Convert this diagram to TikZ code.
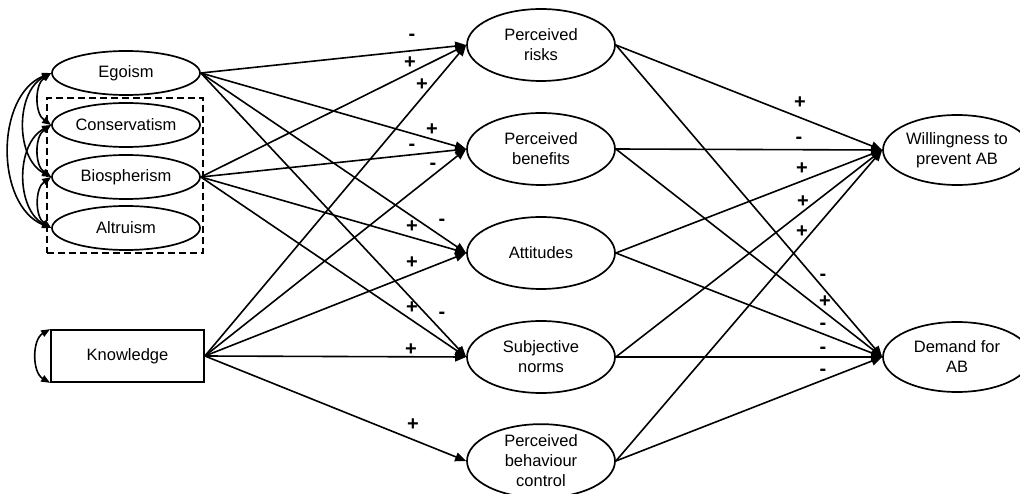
\documentclass[tikz,border=0pt]{standalone}
\usepackage{fontspec}
\setmainfont{Liberation Sans}
\usetikzlibrary{shapes.geometric,arrows.meta}
\begin{document}
\begin{tikzpicture}[x=1pt,y=-1pt,
  font=\fontsize{16.5}{20}\selectfont,
  every node/.style={inner sep=0pt},
  lat/.style={ellipse,draw,line width=1.7pt,minimum width=148pt,minimum height=44pt,align=center},
  mid/.style={ellipse,draw,line width=1.7pt,minimum width=148pt,minimum height=72pt,align=center},
  outc/.style={ellipse,draw,line width=1.7pt,minimum width=148pt,minimum height=70pt,align=center},
  box/.style={rectangle,draw,line width=1.7pt,minimum width=153pt,minimum height=52pt},
  grpbox/.style={rectangle,draw,line width=1.5pt,dash pattern=on 7pt off 4pt,minimum width=156pt,minimum height=155pt},
  arr/.style={line width=1.6pt,-{Triangle[length=11pt,width=9pt]}},
  cov/.style={line width=1.6pt,{Triangle[length=9pt,width=7pt]}-{Triangle[length=9pt,width=7pt]}},
  sign/.style={font=\fontsize{20}{24}\selectfont\bfseries}
]
\useasboundingbox (0,0) rectangle (1020,494);

% left side
\node[grpbox] (grp) at (125,175.5) {};
\node[lat] (ego) at (126,73) {Egoism};
\node[lat] (con) at (126,125) {Conservatism};
\node[lat] (bio) at (126,177) {Biospherism};
\node[lat] (alt) at (126,228) {Altruism};
\node[box] (kn) at (127.5,356) {Knowledge};

% middle
\node[mid] (risk) at (541,45) {Perceived\\risks};
\node[mid] (ben) at (541,149) {Perceived\\benefits};
\node[mid] (att) at (541,253) {Attitudes};
\node[mid] (norm) at (541,357) {Subjective\\norms};
\node[mid] (pbc) at (541,461) {Perceived\\behaviour\\control};

% right
\node[outc] (will) at (957,150) {Willingness to\\prevent AB};
\node[outc] (dem) at (957,357) {Demand for\\AB};

% covariances
\draw[cov] (ego.west) to[bend right=55] (con.west);
\draw[cov] (ego.west) to[bend right=62] (bio.west);
\draw[cov] (ego.west) to[bend right=68] (alt.west);
\draw[cov] (con.west) to[bend right=55] (bio.west);
\draw[cov] (con.west) to[bend right=62] (alt.west);
\draw[cov] (bio.west) to[bend right=55] (alt.west);
\draw[cov] (kn.north west) to[bend right=60] (kn.south west);

% paths
\foreach \s/\t in {ego/risk,ego/ben,ego/att,ego/norm,bio/risk,bio/ben,bio/att,bio/norm,kn/risk,kn/ben,kn/att,kn/norm,kn/pbc}
  \draw[arr] (\s.east) -- (\t.west);
\foreach \s in {risk,ben,att,norm,pbc}{
  \draw[arr] (\s.east) -- (will.west);
  \draw[arr] (\s.east) -- (dem.west);
}

% signs
\node[sign] (s1) at (412,37) {-};
\node[sign] (s2) at (410,63) {+};
\node[sign] (s3) at (422,85) {+};
\node[sign] (s4) at (432,130) {+};
\node[sign] (s5) at (412,147) {-};
\node[sign] (s6) at (433,166) {-};
\node[sign] (s7) at (412,227) {+};
\node[sign] (s8) at (442,222) {-};
\node[sign] (s9) at (412,263) {+};
\node[sign] (s10) at (412,308) {+};
\node[sign] (s11) at (442,315) {-};
\node[sign] (s12) at (411,350) {+};
\node[sign] (s13) at (413,425) {+};

\node[sign] (r1) at (800,103) {+};
\node[sign] (r2) at (799,140) {-};
\node[sign] (r3) at (802,169) {+};
\node[sign] (r4) at (803,202) {+};
\node[sign] (r5) at (802,232) {+};
\node[sign] (r6) at (823,277) {-};
\node[sign] (r7) at (825,302) {+};
\node[sign] (r8) at (823,326) {-};
\node[sign] (r9) at (823,350) {-};
\node[sign] (r10) at (823,372) {-};
\end{tikzpicture}
\end{document}
